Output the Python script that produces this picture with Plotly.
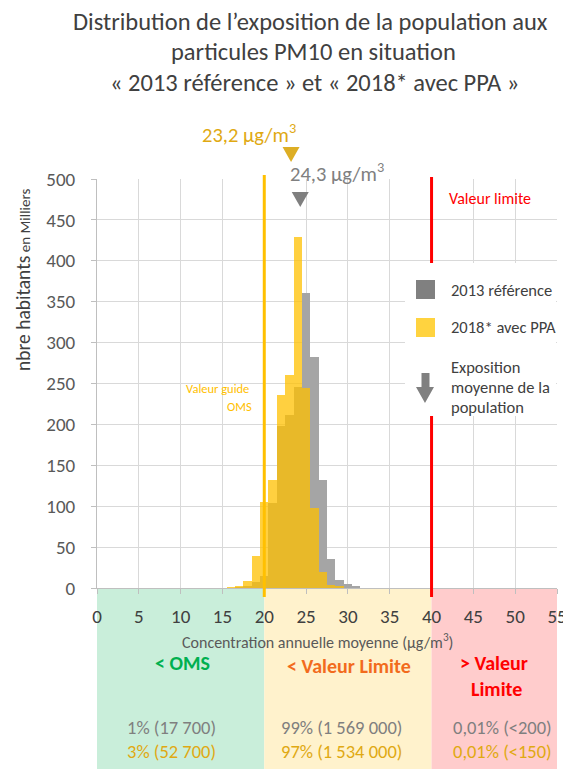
import plotly.graph_objects as go

# ---------------- data ----------------
bins = [15, 16, 17, 18, 19, 20, 21, 22, 23, 24, 25, 26, 27, 28, 29, 30, 31]
pop_2013 = [0, 0, 0.5, 2, 7, 15, 104, 198, 212, 246, 361, 282, 132, 35, 10, 5, 2]
pop_2018 = [0.5, 1, 2.5, 8, 39, 105, 132, 236, 261, 429, 245, 98, 20, 4, 2, 0.5, 0]
mean_2013 = 24.3
mean_2018 = 23.2
oms_guide = 20
valeur_limite = 40
x_max = 55
x_ticks = list(range(0, 56, 5))
y_ticks = list(range(0, 501, 50))
zone_labels = ["< OMS", "< Valeur Limite", "> Valeur", "Limite"]
zone_2013 = ["1% (17 700)", "99% (1 569 000)", "0,01% (<200)"]
zone_2018 = ["3% (52 700)", "97% (1 534 000)", "0,01% (<150)"]
series_names = ["2013 référence", "2018* avec PPA"]

FONT = "Carlito, Calibri, Lato, 'Open Sans', sans-serif"
# the page body has an 8px margin: figure coords = screen coords - 8
OFF = 8
SW, SH = 571, 769              # screen size
L, R, T, B = 97, 14, 179, 181  # in screen coords
W, H = SW - OFF, SH - OFF
PW, PH = SW - L - R, SH - T - B


def px(x):
    return (x - L) / PW


def py(y):
    return (SH - B - y) / PH


GREY = "#A5A5A5"
YEL = "rgba(255,192,0,0.75)"
GOLD = "#E0A912"

fig = go.Figure()
fig.add_trace(go.Bar(x=bins, y=pop_2013, width=1, name=series_names[0],
                     marker=dict(color=GREY, line=dict(width=0)), showlegend=False))
fig.add_trace(go.Bar(x=bins, y=pop_2018, width=1, name=series_names[1],
                     marker=dict(color=YEL, line=dict(width=0)), showlegend=False))

shapes = []
# zones below axis
zone_cols = ["#C9EEDA", "#FFF2CC", "#FFCCCC"]
zone_edges = [0, oms_guide, valeur_limite, x_max]
for i in range(3):
    shapes.append(dict(type="rect", xref="x", yref="paper", x0=zone_edges[i], x1=zone_edges[i + 1],
                       y0=py(SH + 2), y1=0, fillcolor=zone_cols[i], line=dict(width=0), layer="below"))
# OMS guide line
shapes.append(dict(type="line", xref="x", yref="paper", x0=oms_guide, x1=oms_guide,
                   y0=py(597), y1=py(175), line=dict(color="#FFC000", width=3), layer="above"))
# red limit line (legend box covers middle)
shapes.append(dict(type="line", xref="x", yref="paper", x0=valeur_limite, x1=valeur_limite,
                   y0=py(597), y1=py(177), line=dict(color="#FF0000", width=3), layer="above"))


# mean exposure triangles (x from data, vertical placement in paper coords)
def tri(xc, ytop, ybot, color):
    hw = 8.5 / (PW / x_max)
    p = (f"M {xc - hw:.4f},{py(ytop):.5f} L {xc + hw:.4f},{py(ytop):.5f} "
         f"L {xc:.4f},{py(ybot):.5f} Z")
    return dict(type="path", xref="x", yref="paper", path=p, fillcolor=color,
                line=dict(width=0), layer="above")


shapes.append(tri(mean_2018, 147, 162, "#DDAE24"))
shapes.append(tri(mean_2013, 192, 207, "#7F7F7F"))

# legend background
shapes.append(dict(type="rect", xref="paper", yref="paper", x0=px(405), x1=px(556),
                   y0=py(416), y1=py(263), fillcolor="white", line=dict(width=0), layer="above"))
# legend squares
shapes.append(dict(type="rect", xref="paper", yref="paper", x0=px(416), x1=px(435),
                   y0=py(299), y1=py(280), fillcolor="#808080", line=dict(width=0), layer="above"))
shapes.append(dict(type="rect", xref="paper", yref="paper", x0=px(416), x1=px(435),
                   y0=py(337), y1=py(318), fillcolor="#FFD33F", line=dict(width=0), layer="above"))
# legend arrow
pts = [(421.5, 373), (429.5, 373), (429.5, 387), (434, 387), (425, 403), (416, 387), (421.5, 387)]
path = "M " + " L ".join(f"{px(a):.5f},{py(b):.5f}" for a, b in pts) + " Z"
shapes.append(dict(type="path", xref="paper", yref="paper", path=path,
                   fillcolor="#808080", line=dict(width=0), layer="above"))

ann = []


def A(text, x, y, size, color, xanchor="center", bold=False, xref="paper", yref="paper", **kw):
    if bold:
        text = f"<b>{text}</b>"
    ann.append(dict(text=text, x=x, y=y, xref=xref, yref=yref, xanchor=xanchor, yanchor="middle",
                    showarrow=False, font=dict(family=FONT, size=size, color=color), **kw))


# title
A("Distribution de l’exposition de la population aux", px(310), py(22), 24.5, "#404040")
A("particules PM10 en situation", px(313), py(52), 24.5, "#404040")
A("« 2013 référence » et « 2018* avec PPA »", px(314), py(83), 24.5, "#404040")

# mean labels
A(f"{mean_2018:.1f}".replace(".", ",") + " µg/m<sup>3</sup>", mean_2018, py(133), 20.5, GOLD,
  xanchor="right", xref="x", xshift=7)
A(f"{mean_2013:.1f}".replace(".", ",") + " µg/m<sup>3</sup>", mean_2013, py(172), 20.5, "#808080",
  xanchor="left", xref="x", xshift=-12)

# in-plot labels
A("Valeur limite", px(447), py(198), 16, "#FF0000", xanchor="left")
A("Valeur guide", px(251), py(388), 12.5, "#FFC000", xanchor="right")
A("OMS", px(254), py(406), 12.5, "#FFC000", xanchor="right")

# legend text
A(series_names[0], px(449), py(290), 16.5, "#404040", xanchor="left")
A(series_names[1], px(449), py(327), 16.5, "#404040", xanchor="left")
A("Exposition", px(449), py(367), 16.5, "#404040", xanchor="left")
A("moyenne de la", px(449), py(387), 16.5, "#404040", xanchor="left")
A("population", px(449), py(407), 16.5, "#404040", xanchor="left")

# y axis title
A("nbre habitants<span style='font-size:15px'> en Milliers</span>", px(23), py(280), 19.5, "#404040",
  textangle=-90)

# x axis title
A("Concentration annuelle moyenne (µg/m<sup>3</sup>)", px(317), py(641), 16, "#595959")

# zone labels
A(zone_labels[0], px(182), py(663), 20, "#00B050", bold=True)
A(zone_labels[1], px(349), py(666), 20, "#F26B1D", bold=True)
A(zone_labels[2], px(494), py(663), 20, "#FF0000", bold=True)
A(zone_labels[3], px(496), py(689), 20, "#FF0000", bold=True)

zone_cx = [171, 341, 502]
for i in range(3):
    A(zone_2013[i], px(zone_cx[i]), py(727), 18.5, "#7F7F7F")
    A(zone_2018[i], px(zone_cx[i]), py(751), 18.5, GOLD)

fig.update_layout(
    width=W, height=H, margin=dict(l=L - OFF, r=R, t=T - OFF, b=B, autoexpand=False),
    paper_bgcolor="white", plot_bgcolor="white",
    barmode="overlay", bargap=0,
    font=dict(family=FONT, size=15, color="#404040"),
    shapes=shapes, annotations=ann,
    xaxis=dict(range=[0, x_max], tickvals=x_ticks, showgrid=True, gridcolor="#D9D9D9", gridwidth=1,
               zeroline=False, showline=True, linecolor="#BFBFBF", linewidth=1, automargin=False,
               ticks="outside", ticklen=5, tickcolor="#BFBFBF", ticklabelstandoff=6,
               tickfont=dict(family=FONT, size=19, color="#404040"), fixedrange=True),
    yaxis=dict(range=[0, 500], tickvals=y_ticks, showgrid=True, gridcolor="#D9D9D9", gridwidth=1,
               zeroline=False, showline=True, linecolor="#BFBFBF", linewidth=1, automargin=False,
               ticks="outside", ticklen=5, tickcolor="#BFBFBF", ticklabelstandoff=12,
               tickfont=dict(family=FONT, size=19, color="#595959"), fixedrange=True),
)

fig.write_html("out.html")
